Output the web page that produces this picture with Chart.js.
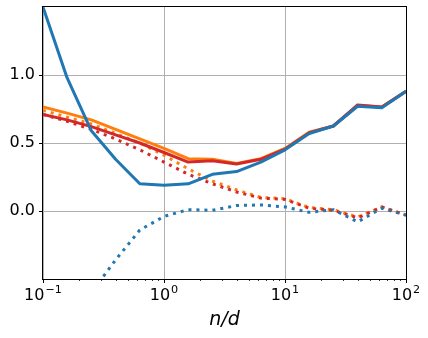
<!DOCTYPE html>
<html lang="en">
<head>
<meta charset="UTF-8">
<title>n/d curves</title>
<script src="https://cdn.jsdelivr.net/npm/chart.js"></script>
<style>
  body { margin: 0; background: #fff; }
  #wrap { width: 428px; height: 338px; }
</style>
</head>
<body>
<div id="wrap"><canvas id="chart" width="428" height="338"></canvas></div>
<script>
// x values (n/d), five per decade
var nd = [0.1, 0.158, 0.251, 0.398, 0.631, 1, 1.585, 2.512, 3.981, 6.31, 10, 15.85, 25.12, 39.81, 63.1, 100];

var blueSolid   = [1.5, 0.98, 0.59, 0.38, 0.2, 0.19, 0.2, 0.27, 0.29, 0.36, 0.45, 0.57, 0.625, 0.77, 0.76, 0.88];
var orangeSolid = [0.765, 0.72, 0.67, 0.6, 0.53, 0.46, 0.385, 0.38, 0.35, 0.385, 0.46, 0.58, 0.625, 0.775, 0.765, 0.88];
var redSolid    = [0.71, 0.67, 0.62, 0.56, 0.5, 0.43, 0.36, 0.37, 0.345, 0.38, 0.455, 0.575, 0.625, 0.78, 0.765, 0.88];
var blueDotted   = [-1.5, -1.0, -0.6, -0.36, -0.14, -0.04, 0.01, 0.005, 0.04, 0.045, 0.03, -0.01, 0.01, -0.08, 0.02, -0.03];
var orangeDotted = [0.74, 0.69, 0.64, 0.57, 0.5, 0.41, 0.31, 0.22, 0.155, 0.1, 0.09, 0.025, 0.01, -0.045, 0.03, -0.03];
var redDotted    = [0.71, 0.66, 0.6, 0.53, 0.45, 0.36, 0.27, 0.2, 0.14, 0.095, 0.085, 0.02, 0.005, -0.05, 0.03, -0.03];

var xTicks = [0.1, 1, 10, 100];
var xTickBase = '10';
var xTickExps = ['−1', '0', '1', '2'];
var yTicks = [0, 0.5, 1.0];

var BLUE = '#1f77b4', ORANGE = '#ff7f0e', RED = '#d62728';

function pts(ys) {
    return nd.map(function(x, i) { return { x: x, y: ys[i] }; });
}

function series(ys, color, dotted, order) {
    return {
        data: pts(ys),
        borderColor: color,
        backgroundColor: color,
        borderWidth: 3,
        borderDash: dotted ? [3, 5] : [],
        borderCapStyle: 'butt',
        borderJoinStyle: 'round',
        pointRadius: 0,
        tension: 0,
        fill: false,
        clip: 0,
        order: order
    };
}

// black box round the plot, minor log ticks, and 10^k labels on the x axis
var framePlugin = {
    id: 'frame',
    afterDraw: function(chart) {
        var a = chart.chartArea, ctx = chart.ctx, xs = chart.scales.x;
        ctx.save();
        ctx.strokeStyle = '#000';
        ctx.lineWidth = 1;
        ctx.strokeRect(a.left - 0.5, a.top - 0.5, a.right - a.left + 1, a.bottom - a.top + 1);
        ctx.beginPath();
        for (var d = -1; d < 2; d++) {
            for (var k = 2; k < 10; k++) {
                var px = Math.round(xs.getPixelForValue(k * Math.pow(10, d))) + 0.5;
                ctx.moveTo(px, a.bottom);
                ctx.lineTo(px, a.bottom + 2);
            }
        }
        ctx.lineWidth = 0.8;
        ctx.stroke();

        // tick labels: "10" with a raised, smaller exponent
        ctx.fillStyle = '#000';
        ctx.textBaseline = 'alphabetic';
        ctx.textAlign = 'left';
        var bigFont = '16px "DejaVu Sans"', smallFont = '11.2px "DejaVu Sans"';
        xTicks.forEach(function(v, i) {
            ctx.font = bigFont;
            var wb = ctx.measureText(xTickBase).width;
            ctx.font = smallFont;
            var we = ctx.measureText(xTickExps[i]).width;
            var x0 = xs.getPixelForValue(v) - (wb + we + 1) / 2;
            var base = a.bottom + 21;
            ctx.font = bigFont;
            ctx.fillText(xTickBase, x0, base);
            ctx.font = smallFont;
            ctx.fillText(xTickExps[i], x0 + wb + 1, base - 7);
        });
        ctx.restore();
    }
};

var ctx = document.getElementById('chart').getContext('2d');
var chart = new Chart(ctx, {
    type: 'line',
    data: {
        datasets: [
            series(orangeSolid, ORANGE, false, 6),
            series(orangeDotted, ORANGE, true, 5),
            series(redSolid, RED, false, 4),
            series(redDotted, RED, true, 3),
            series(blueSolid, BLUE, false, 2),
            series(blueDotted, BLUE, true, 1)
        ]
    },
    options: {
        responsive: false,
        devicePixelRatio: 1,
        animation: false,
        layout: { padding: { top: 7, right: 22, left: 0, bottom: 0 } },
        plugins: { legend: { display: false }, tooltip: { enabled: false } },
        scales: {
            x: {
                type: 'logarithmic',
                min: 0.1,
                max: 100,
                afterBuildTicks: function(axis) {
                    axis.ticks = xTicks.map(function(v) { return { value: v, major: true }; });
                },
                afterFit: function(axis) {
                    axis.height = 59;
                    axis.paddingLeft = 0;
                    axis.paddingRight = 0;
                },
                ticks: { display: false },
                grid: { color: '#b0b0b0', lineWidth: 1, tickColor: '#000', tickLength: 4 },
                border: { display: false },
                title: {
                    display: true,
                    text: 'n/d',
                    color: '#000',
                    padding: { top: 4, bottom: 7 },
                    font: { family: 'DejaVu Sans', size: 19, style: 'italic' }
                }
            },
            y: {
                min: -0.5,
                max: 1.5,
                afterBuildTicks: function(axis) {
                    axis.ticks = yTicks.map(function(v) { return { value: v }; });
                },
                afterFit: function(axis) {
                    axis.width = 43;
                    axis.paddingTop = 0;
                    axis.paddingBottom = 0;
                },
                ticks: {
                    padding: 4,
                    color: '#000',
                    font: { family: 'DejaVu Sans', size: 16 },
                    callback: function(v) { return Number(v).toFixed(1); }
                },
                grid: { color: '#b0b0b0', lineWidth: 1, tickColor: '#000', tickLength: 4 },
                border: { display: false }
            }
        }
    },
    plugins: [framePlugin]
});
</script>
</body>
</html>
